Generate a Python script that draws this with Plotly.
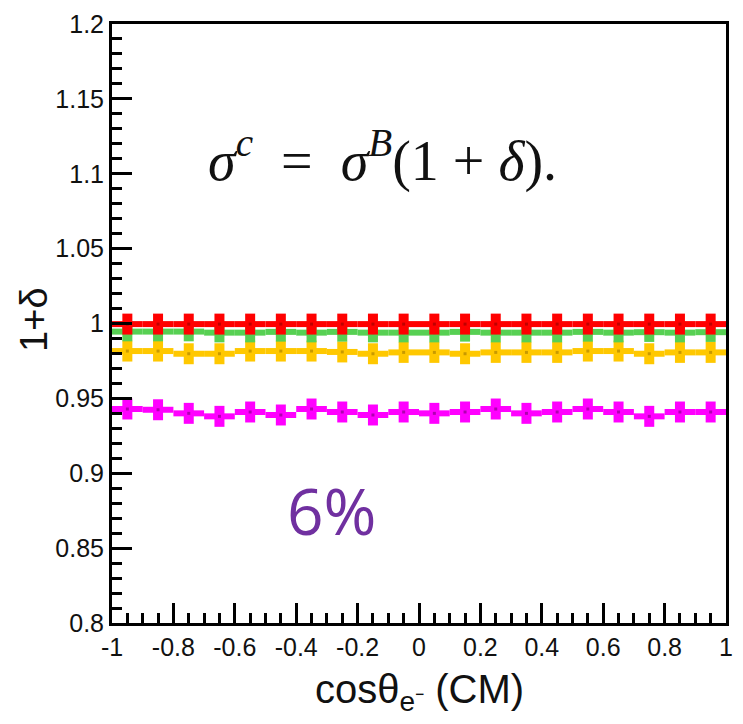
import plotly.graph_objects as go

# ---- data ----
bin_centers = [-0.95, -0.85, -0.75, -0.65, -0.55, -0.45, -0.35, -0.25, -0.15, -0.05,
               0.05, 0.15, 0.25, 0.35, 0.45, 0.55, 0.65, 0.75, 0.85, 0.95]
bin_half_width = [0.05] * 20

red_vals = [0.9996, 0.9996, 0.9996, 0.9996, 0.9996, 0.9996, 0.9996, 0.9996, 0.9996, 0.9996,
            0.9996, 0.9996, 0.9996, 0.9996, 0.9996, 0.9996, 0.9996, 0.9996, 0.9996, 0.9996]
red_err = [0.007] * 20

green_vals = [0.9946, 0.9946, 0.9946, 0.9939, 0.9939, 0.9944, 0.9939, 0.9944, 0.9939, 0.9939,
              0.9939, 0.9944, 0.9939, 0.9939, 0.9939, 0.9944, 0.9939, 0.9942, 0.9939, 0.9942]
green_err = [0.0065] * 20

yellow_vals = [0.9816, 0.9816, 0.9798, 0.9798, 0.9816, 0.9816, 0.9816, 0.9810, 0.9798, 0.9807,
               0.9807, 0.9798, 0.9807, 0.9807, 0.9807, 0.9816, 0.9816, 0.9798, 0.9807, 0.9807]
yellow_err = [0.007] * 20

magenta_vals = [0.9429, 0.9424, 0.9400, 0.9380, 0.9409, 0.9389, 0.9429, 0.9409, 0.9389, 0.9409,
                0.9400, 0.9409, 0.9429, 0.9400, 0.9409, 0.9429, 0.9409, 0.9380, 0.9409, 0.9409]
magenta_err = [0.007] * 20

x_tick_vals = [-1, -0.8, -0.6, -0.4, -0.2, 0, 0.2, 0.4, 0.6, 0.8, 1]
x_tick_text = ["-1", "-0.8", "-0.6", "-0.4", "-0.2", "0", "0.2", "0.4", "0.6", "0.8", "1"]
y_tick_vals = [0.8, 0.85, 0.9, 0.95, 1.0, 1.05, 1.1, 1.15, 1.2]
y_tick_text = ["0.8", "0.85", "0.9", "0.95", "1", "1.05", "1.1", "1.15", "1.2"]

series = [
    ("magenta", magenta_vals, magenta_err, "#FF00FF", "#B000B0"),
    ("yellow", yellow_vals, yellow_err, "#FFC800", "#C89A00"),
    ("green", green_vals, green_err, "#57D053", "#3A9A38"),
    ("red", red_vals, red_err, "#FF0000", "#C00000"),
]

fig = go.Figure()
for name, vals, errs, col, dark in series:
    fig.add_trace(go.Scatter(
        x=bin_centers, y=vals, mode="markers", name=name,
        marker=dict(symbol="square", size=3, color=dark),
        error_x=dict(type="data", array=bin_half_width, visible=True,
                     thickness=6, width=0, color=col),
        error_y=dict(type="data", array=errs, visible=True,
                     thickness=10, width=0, color=col),
        showlegend=False,
    ))

tick_font = dict(family="Liberation Sans, Arial, sans-serif", size=25, color="#111111")

fig.update_xaxes(
    range=[-1, 1], tickvals=x_tick_vals, ticktext=x_tick_text,
    ticks="inside", ticklen=20, tickwidth=3, tickcolor="black",
    minor=dict(dtick=0.05, ticks="inside", ticklen=10, tickwidth=3, tickcolor="black"),
    showline=True, linewidth=3, linecolor="black", mirror=True,
    showgrid=False, zeroline=False, tickfont=tick_font,
)
fig.update_yaxes(
    range=[0.8, 1.2], tickvals=y_tick_vals, ticktext=y_tick_text,
    ticks="inside", ticklen=20, tickwidth=3, tickcolor="black",
    minor=dict(dtick=0.01, tick0=0.8, ticks="inside", ticklen=10, tickwidth=3, tickcolor="black"),
    showline=True, linewidth=3, linecolor="black", mirror=True,
    showgrid=False, zeroline=False, tickfont=tick_font,
)

fig.add_annotation(
    xref="paper", yref="paper", x=0.5, y=-0.1157,
    text="cosθ<sub>e⁻</sub> (CM)", showarrow=False,
    font=dict(family="Liberation Sans, Arial, sans-serif", size=40, color="#111111"),
    xanchor="center", yanchor="middle",
)
fig.add_annotation(
    xref="paper", yref="paper", x=-0.127, y=0.506,
    text="1+δ", showarrow=False, textangle=-90,
    font=dict(family="Liberation Sans, Arial, sans-serif", size=38, color="#111111"),
    xanchor="center", yanchor="middle",
)
fig.add_annotation(
    xref="paper", yref="paper", x=0.44, y=0.778,
    text="<i>σ</i><sup><i>c</i></sup>  =  <i>σ</i><sup><i>B</i></sup>(1 + <i>δ</i>).",
    showarrow=False,
    font=dict(family="Liberation Serif, Times New Roman, serif", size=56, color="#111111"),
    xanchor="center", yanchor="middle",
)
fig.add_annotation(
    xref="paper", yref="paper", x=0.359, y=0.188,
    text="6%", showarrow=False,
    font=dict(family="Open Sans, sans-serif", size=64, color="#7030A0"),
    xanchor="center", yanchor="middle",
)

fig.update_layout(
    width=743, height=724,
    margin=dict(l=112, r=10, t=19, b=101),
    paper_bgcolor="white", plot_bgcolor="white",
)

fig.write_html("out.html")
